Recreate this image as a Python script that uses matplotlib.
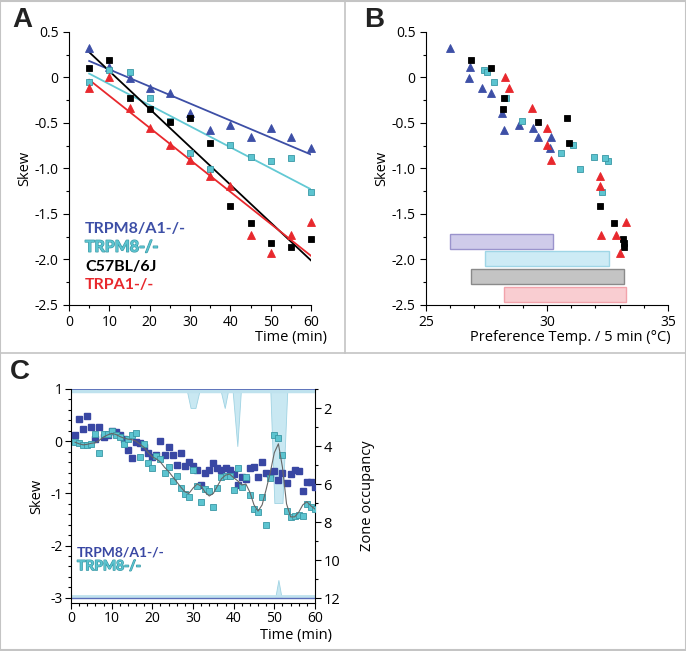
import numpy as np
import matplotlib
matplotlib.use("Agg")
import matplotlib.pyplot as plt
from matplotlib.lines import Line2D
from matplotlib.ticker import MultipleLocator, FuncFormatter
import matplotlib.patheffects as pe

plt.rcParams['font.family'] = ['Open Sans', 'DejaVu Sans']

# ---- panel A / B data (skew every 5 min) ----
time_a = [5, 10, 15, 20, 25, 30, 35, 40, 45, 50, 55, 60]
skew_m8a1 = [0.32, 0.11, -0.01, -0.11, -0.17, -0.39, -0.58, -0.52, -0.65, -0.56, -0.65, -0.78]
skew_m8 = [-0.05, 0.085, 0.06, -0.22, -0.48, -0.83, -1.01, -0.74, -0.87, -0.92, -0.88, -1.26]
skew_wt = [0.10, 0.19, -0.22, -0.35, -0.49, -0.44, -0.72, -1.41, -1.60, -1.82, -1.86, -1.77]
skew_a1 = [-0.12, 0.0, -0.34, -0.55, -0.74, -0.91, -1.08, -1.19, -1.73, -1.93, -1.73, -1.59]

# preferred temperature per 5 min bin (panel B)
temp_m8a1 = [25.98, 26.83, 26.79, 27.33, 27.70, 28.12, 28.24, 28.86, 29.63, 29.44, 30.18, 30.12]
temp_m8 = [27.80, 27.40, 27.53, 28.31, 28.96, 30.56, 31.36, 31.06, 31.94, 32.52, 32.38, 32.28]
temp_wt = [27.67, 26.86, 28.21, 28.18, 29.63, 30.83, 30.92, 32.21, 32.75, 33.18, 33.20, 33.13]
temp_a1 = [28.41, 28.25, 29.36, 30.01, 30.00, 30.15, 32.21, 32.21, 32.24, 33.00, 32.86, 33.27]

# temperature ranges (bars in B)
range_lo = [26.0, 27.43, 26.86, 28.24]
range_hi = [30.25, 32.55, 33.20, 33.27]

# ---- panel C data (skew every min) ----
time_c = list(range(1, 61))
skew_c_m8a1 = [0.12, 0.43, 0.23, 0.49, 0.27, 0.04, 0.27, 0.08, 0.12, 0.20,
               0.18, 0.12, 0.04, -0.17, -0.33, -0.01, -0.04, -0.12, -0.22, -0.30,
               -0.27, 0.01, -0.26, -0.12, -0.26, -0.45, -0.23, -0.47, -0.40, -0.47,
               -0.55, -0.83, -0.60, -0.55, -0.41, -0.52, -0.55, -0.52, -0.55, -0.63,
               -0.84, -0.68, -0.73, -0.52, -0.49, -0.68, -0.39, -0.60, -0.62, -0.58,
               -0.74, -0.60, -0.81, -0.62, -0.55, -0.57, -0.95, -0.79, -0.79, -0.88]
skew_c_m8 = [-0.01, -0.03, -0.08, -0.08, -0.05, 0.13, -0.22, 0.13, 0.14, 0.20,
             0.12, 0.08, -0.05, 0.04, 0.12, 0.15, -0.30, -0.05, -0.42, -0.52,
             -0.28, -0.34, -0.61, -0.49, -0.76, -0.67, -0.90, -1.01, -1.06, -0.56,
             -0.86, -1.16, -0.92, -0.96, -1.26, -0.90, -0.69, -0.67, -0.67, -0.93,
             -0.51, -0.88, -0.69, -1.03, -1.30, -1.35, -1.06, -1.60, -0.71, 0.12,
             0.06, -0.26, -1.33, -1.46, -1.43, -1.41, -1.43, -1.20, -1.26, -1.30]
smooth_m8 = [-0.02, -0.05, -0.07, -0.06, -0.04, -0.03, 0.02, 0.08, 0.12, 0.15,
             0.13, 0.09, 0.06, 0.04, 0.03, 0.00, -0.06, -0.12, -0.22, -0.30,
             -0.34, -0.40, -0.50, -0.58, -0.68, -0.78, -0.88, -0.97, -1.00, -0.90,
             -0.82, -0.86, -0.98, -1.05, -1.00, -0.86, -0.72, -0.65, -0.63, -0.70,
             -0.76, -0.84, -0.82, -0.98, -1.22, -1.34, -1.22, -0.92, -0.60, -0.22,
             -0.05, -0.50, -1.20, -1.45, -1.45, -1.36, -1.22, -1.16, -1.24, -1.30]

# zone occupancy traces
zone_t = [0, 28.4, 29.4, 30.6, 31.7, 36.7, 37.8, 38.7, 39.7, 40.9, 41.8, 49.0, 50.0, 52.0, 53.2, 60]
zone_top = [1, 1, 2, 2, 1, 1, 2, 1, 1, 4, 1, 1, 7, 7, 1, 1]
zone_bt = [0, 50.2, 51.0, 51.8, 60]
zone_bot = [12, 12, 11.05, 12, 12]

blue = '#3d4fa6'
cyan = '#5cc4d0'
cyan_edge = '#3a98a5'
red = '#e8282d'
dblue = '#3947a3'

W, H = 686, 651
fig = plt.figure(figsize=(W / 100, H / 100), dpi=100)


def box(x0, y0, x1, y1):
    return [x0 / W, 1 - y1 / H, (x1 - x0) / W, (y1 - y0) / H]


def skew_fmt(v, _):
    if abs(v) < 1e-9:
        return '0'
    return '%.1f' % v


def style(ax):
    for s in ['top', 'right']:
        ax.spines[s].set_visible(False)
    for s in ['left', 'bottom']:
        ax.spines[s].set_linewidth(0.8)
    ax.tick_params(which='major', direction='out', length=4, width=0.8, labelsize=10)
    ax.tick_params(which='minor', direction='out', length=2, width=0.8)


# ---------------- A ----------------
axA = fig.add_axes(box(69, 32, 311, 305))
style(axA)
axA.set_xlim(0, 60)
axA.set_ylim(-2.5, 0.5)
axA.xaxis.set_major_locator(MultipleLocator(10))
axA.xaxis.set_minor_locator(MultipleLocator(5))
axA.yaxis.set_major_locator(MultipleLocator(0.5))
axA.yaxis.set_minor_locator(MultipleLocator(0.25))
axA.yaxis.set_major_formatter(FuncFormatter(skew_fmt))

series = [
    (skew_m8a1, temp_m8a1, blue, '^', 6, 'none', 'TRPM8/A1-/-'),
    (skew_m8, temp_m8, cyan, 's', 5, cyan_edge, 'TRPM8-/-'),
    (skew_wt, temp_wt, 'black', 's', 4.8, 'black', 'C57BL/6J'),
    (skew_a1, temp_a1, red, '^', 6, 'none', 'TRPA1-/-'),
]
ta = np.array(time_a)
for sk, tp, col, mk, ms, ec, name in series:
    axA.plot(time_a, sk, ls='none', marker=mk, ms=ms, color=col, mec=ec if ec != 'none' else col,
             mew=0.6, clip_on=False, zorder=3)
    k, b = np.polyfit(ta, sk, 1)
    axA.plot([5, 60], [k * 5 + b, k * 60 + b], color=col if col != cyan else '#62c9d4', lw=1.3, zorder=2)

for i, (sk, tp, col, mk, ms, ec, name) in enumerate(series):
    kw = {}
    if col == cyan:
        kw['path_effects'] = [pe.withStroke(linewidth=0.9, foreground=cyan_edge)]
    axA.text(0.066, 0.278 - i * 0.0685, name, transform=axA.transAxes, color=col,
             fontsize=11.5, fontweight='bold', va='center', ha='left',
             family=['Lato', 'DejaVu Sans'], **kw)

axA.set_ylabel('Skew', fontsize=10.5, labelpad=2)
axA.text(1.065, -0.12, 'Time (min)', transform=axA.transAxes, ha='right', va='center', fontsize=10.5)

# ---------------- B ----------------
axB = fig.add_axes(box(426, 32, 668, 305))
style(axB)
axB.set_xlim(25, 35)
axB.set_ylim(-2.5, 0.5)
axB.xaxis.set_major_locator(MultipleLocator(5))
axB.xaxis.set_minor_locator(MultipleLocator(1))
axB.yaxis.set_major_locator(MultipleLocator(0.5))
axB.yaxis.set_minor_locator(MultipleLocator(0.25))
axB.yaxis.set_major_formatter(FuncFormatter(skew_fmt))

bar_fc = ['#cfcbea', '#cdebf5', '#c4c4c4', '#f9cdd1']
bar_ec = ['#9a93cc', '#9fd6e6', '#8a8a8a', '#f2a3ab']
bar_y = [-1.80, -1.99, -2.185, -2.385]
lo = np.array(range_lo)
hi = np.array(range_hi)
axB.barh(bar_y, hi - lo, left=lo, height=0.17, color=bar_fc, edgecolor=bar_ec, lw=1.0, zorder=1)

for sk, tp, col, mk, ms, ec, name in series:
    axB.plot(tp, sk, ls='none', marker=mk, ms=ms, color=col, mec=ec if ec != 'none' else col,
             mew=0.6, clip_on=False, zorder=3)

axB.set_ylabel('Skew', fontsize=10.5, labelpad=2)
axB.text(1.01, -0.12, 'Preference Temp. / 5 min (°C)', transform=axB.transAxes,
         ha='right', va='center', fontsize=10.5)

# ---------------- C ----------------
axC = fig.add_axes(box(71, 389, 315, 603))
axZ = axC.twinx()
axC.set_zorder(axZ.get_zorder() + 1)
axC.patch.set_visible(False)

axC.spines['top'].set_visible(False)
axC.spines['right'].set_visible(False)
for s in ['left', 'bottom']:
    axC.spines[s].set_linewidth(0.8)
axC.tick_params(which='major', direction='out', length=4, width=0.8, labelsize=10, pad=2)
axC.tick_params(which='minor', direction='out', length=2, width=0.8)
axC.set_xlim(0, 60)
axC.set_ylim(-3.1, 1.0)
axC.xaxis.set_major_locator(MultipleLocator(10))
axC.xaxis.set_minor_locator(MultipleLocator(2))
axC.yaxis.set_major_locator(MultipleLocator(1))
axC.yaxis.set_minor_locator(MultipleLocator(0.2))
axC.yaxis.set_major_formatter(FuncFormatter(lambda v, _: '%d' % round(v)))

for s in ['top', 'left', 'bottom']:
    axZ.spines[s].set_visible(False)
axZ.spines['right'].set_linewidth(0.8)
axZ.set_ylim(12.26, 1.0)
axZ.yaxis.set_major_locator(MultipleLocator(2))
axZ.yaxis.set_minor_locator(MultipleLocator(1))
axZ.tick_params(which='major', direction='out', length=4, width=0.8, labelsize=10.5, pad=2)
axZ.tick_params(which='minor', direction='out', length=2, width=0.8)

axZ.fill_between(zone_t, 1, zone_top, color='#c9e8f2', edgecolor='#9fd3e3', lw=0.6)
axZ.fill_between(zone_bt, 12, zone_bot, color='#c9e8f2', edgecolor='#9fd3e3', lw=0.6)
axZ.plot([0, 60], [1.12, 1.12], color='#bfe2ee', lw=2.5, solid_capstyle='butt')
axZ.plot([0, 60], [1.0, 1.0], color='#5a6cb8', lw=1.3, solid_capstyle='butt')
axZ.plot([0, 60], [11.9, 11.9], color='#bfe2ee', lw=2.0, solid_capstyle='butt')
axZ.plot([0, 60], [12.02, 12.02], color='#5a6cb8', lw=1.0, solid_capstyle='butt')
axZ.set_ylabel('Zone occupancy', fontsize=10.5, labelpad=14)

axC.plot(time_c, smooth_m8, color='#666666', lw=0.8, zorder=5)
axC.plot(time_c, skew_c_m8a1, ls='none', marker='s', ms=4.2, color=dblue, mec=dblue, zorder=3)
axC.plot(time_c, skew_c_m8, ls='none', marker='s', ms=4.6, color=cyan, mec=cyan_edge, mew=0.6, zorder=4)

axC.text(0.025, 0.235, 'TRPM8/A1-/-', transform=axC.transAxes, color=dblue,
         fontsize=10, fontweight='bold', va='center', family=['Lato', 'DejaVu Sans'])
axC.text(0.025, 0.172, 'TRPM8-/-', transform=axC.transAxes, color=cyan,
         fontsize=10, fontweight='bold', va='center', family=['Lato', 'DejaVu Sans'],
         path_effects=[pe.withStroke(linewidth=0.9, foreground=cyan_edge)])
axC.set_ylabel('Skew', fontsize=10.5, labelpad=4)
axC.text(1.07, -0.15, 'Time (min)', transform=axC.transAxes, ha='right', va='center', fontsize=10.5)

# ---------------- panel letters and frames ----------------
for lbl, x, y in [('A', 22, 20), ('B', 374, 20), ('C', 20, 372)]:
    fig.text(x / W, 1 - y / H, lbl, fontsize=20, fontweight='bold', color='#222222',
             ha='center', va='center', family=['Liberation Sans', 'DejaVu Sans'])

gray = '#c4c4c4'
fig.add_artist(Line2D([345 / W, 345 / W], [1, 1 - 353 / H], color=gray, lw=1.2))
fig.add_artist(Line2D([0, 1], [1 - 353 / H, 1 - 353 / H], color=gray, lw=1.2))
fig.add_artist(Line2D([0, 1, 1, 0, 0], [0.001, 0.001, 0.999, 0.999, 0.001], color=gray, lw=1.5))

fig.savefig('out.png', dpi=100)
